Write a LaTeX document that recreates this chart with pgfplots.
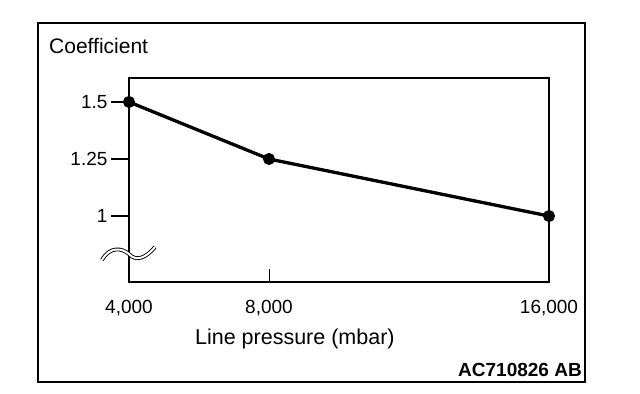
\documentclass[border=0pt]{standalone}
\usepackage{pgfplots}
\pgfplotsset{compat=1.18}
\usepackage{fontspec}
\setmainfont{Liberation Sans}
\begin{document}
\begin{tikzpicture}
\useasboundingbox (-129bp,-112bp) rectangle (511bp,282bp);
\begin{axis}[
  at={(0,0)}, anchor=south west,
  scale only axis,
  width=420bp, height=204bp,
  xmin=4000, xmax=16000,
  ymin=0.711, ymax=1.605,
  axis line style={line width=2bp},
  scaled x ticks=false,
  xtick={4000,8000,16000},
  xticklabels={{4,000},{8,000},{16,000}},
  xtick style={draw=none},
  ytick={1,1.25,1.5},
  yticklabels={1,1.25,1.5},
  ytick pos=left,
  xtick pos=bottom,
  tick align=outside,
  major tick length=18bp,
  ytick style={line width=1.2bp, black},
  yticklabel style={anchor=east, font=\fontsize{19bp}{22bp}\selectfont, xshift=0bp},
  xticklabel style={anchor=center, yshift=-8bp, font=\fontsize{19bp}{22bp}\selectfont},
  xlabel={Line pressure (mbar)},
  xlabel style={at={(axis description cs:0.395,-0.28)}, anchor=center, font=\fontsize{21.5bp}{24bp}\selectfont},
  clip=false,
]
\addplot[black, line width=3.3bp, mark=*, mark size=4.3bp] coordinates {
  (4000,1.5) (8000,1.25) (16000,1.0)
};
\draw[line width=1bp] (axis cs:8000,0.711) -- (axis cs:8000,0.766);
\end{axis}
% outer frame
\draw[line width=2.5bp] (-91bp,259bp) rectangle (456bp,-100bp);
% title
\node[anchor=west, inner sep=0pt, font=\fontsize{21bp}{24bp}\selectfont] at (-80bp,236bp) {Coefficient};
% figure code
\node[anchor=east, inner sep=0pt, font=\fontsize{19bp}{22bp}\selectfont\bfseries] at (453bp,-88bp) {AC710826 AB};
% axis break symbol
\draw[double=white, double distance=2bp, line width=0.9bp]
  (-27bp,22bp) .. controls (-19bp,36bp) and (-7bp,34bp) .. (0bp,28bp)
  .. controls (7bp,20bp) and (17bp,24bp) .. (26bp,35bp);
\end{tikzpicture}
\end{document}
